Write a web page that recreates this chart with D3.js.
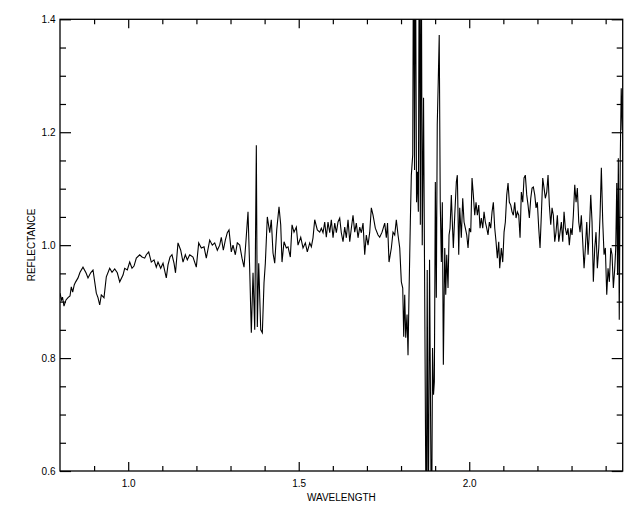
<!DOCTYPE html>
<html>
<head>
<meta charset="utf-8">
<script src="https://cdn.jsdelivr.net/npm/d3@7"></script>
<style>
  html, body { margin: 0; padding: 0; background: #fff; }
  svg { display: block; }
  text { font-family: "Liberation Sans", Arial, sans-serif; fill: #000; }
</style>
</head>
<body>
<svg id="chart" width="640" height="512"></svg>
<script>
// Wavelength (microns)
const wavelength = [
0.800,0.8044,0.8073,0.8117,0.8176,0.8235,0.8293,0.8331,0.8372,0.8419,0.8460,0.8528,0.8587,0.8674,0.8762,0.8821,0.8900,0.8968,0.9018,0.9065,0.9114,0.9164,0.9211,0.9290,0.9358,0.9457,0.9525,0.9604,0.9680,0.9751,0.9848,0.9897,0.9974,1.0044,1.0111,1.0170,1.0238,1.0337,1.0405,1.0484,1.0531,1.0601,1.0677,1.0757,1.0824,1.0874,1.0953,1.1021,1.1117,1.1167,1.1226,
1.1284,1.1343,1.1387,1.1460,1.1540,1.1607,1.1675,1.1733,1.1804,1.1900,1.1997,1.2067,1.2144,1.2223,1.2290,1.2390,1.2466,1.2537,1.2613,1.2683,1.2730,1.2789,1.2848,1.2906,1.2956,1.3023,1.3073,1.3141,1.3199,1.3270,1.3337,1.3396,1.3455,1.3513,1.3563,1.3610,1.3660,1.3710,1.3757,1.3786,1.3827,1.3886,1.3933,1.3982,1.4021,1.4079,1.4150,1.4196,1.4246,1.4296,1.4355,1.4422,
1.4472,1.4510,1.4569,1.4636,1.4686,1.4754,1.4804,1.4862,1.4930,1.4979,1.5059,1.5126,1.5194,1.5252,1.5323,1.5370,1.5419,1.5469,1.5545,1.5616,1.5663,1.5713,1.5762,1.5809,1.5859,1.5909,1.5956,1.6006,1.6056,1.6103,1.6152,1.6202,1.6249,1.6299,1.6349,1.6396,1.6446,1.6496,1.6543,1.6592,1.6642,1.6689,1.6739,1.6789,1.6836,1.6886,1.6935,1.6982,1.7032,1.7082,1.7129,1.7179,1.7246,1.7326,1.7375,1.7443,1.7522,1.7569,1.7604,1.7648,
1.7716,1.7765,1.7815,1.7862,1.7912,1.7962,1.8009,1.8050,1.8079,1.8108,1.8138,1.8176,1.8205,1.8235,1.8273,1.8302,1.8343,1.8367,1.8396,1.8419,1.8455,1.8479,1.8508,1.8537,1.8566,1.8592,1.8622,1.8660,1.8739,1.8768,1.8798,1.8836,1.8894,1.8924,1.8953,1.8977,1.9006,1.9035,1.9062,1.9091,1.9120,1.9150,1.9182,1.9211,1.9241,1.9282,1.9311,1.9340,1.9378,1.9408,1.9437,1.9475,1.9504,1.9534,1.9575,1.9622,1.9651,1.9692,1.9721,1.9768,1.9809,1.9848,1.9886,1.9927,1.9965,2.0003,2.0044,2.0082,2.0120,2.0161,2.0199,2.0238,2.0279,2.0317,2.0355,2.0396,2.0434,2.0472,2.0513,2.0551,2.0590,2.0630,2.0669,2.0707,2.0748,2.0786,2.0824,2.0865,
2.0894,2.0941,2.0982,2.1021,2.1059,2.1100,2.1138,2.1176,2.1217,2.1255,2.1293,2.1334,2.1372,2.1411,2.1452,2.1490,2.1528,2.1569,2.1607,2.1645,2.1686,2.1724,2.1763,2.1804,2.1842,2.1880,2.1921,2.1959,2.1997,2.2038,2.2076,2.2114,2.2155,2.2194,2.2232,2.2273,2.2311,2.2349,2.2390,2.2428,2.2466,2.2507,2.2545,2.2584,2.2625,2.2663,2.2701,2.2742,2.2780,2.2818,2.2859,2.2897,2.2935,2.2977,2.3015,2.3053,2.3094,2.3132,2.3170,2.3211,2.3249,2.3287,2.3328,2.3367,2.3405,2.3446,2.3484,2.3522,2.3563,2.3601,2.3639,2.3680,2.3718,2.3757,2.3798,2.3836,2.3874,2.3915,2.3953,2.3991,2.4032,2.4070,2.4109,2.4150,2.4188,2.4226,2.4267,2.4296,2.4326,2.4349,2.4372,2.4399,2.4428,2.4457,2.4487
];

// Reflectance (values beyond the frame are clipped)
const reflectance = [
0.915,0.903,0.908,0.892,0.903,0.907,0.910,0.926,0.917,0.930,0.935,0.942,0.952,0.961,0.951,0.942,0.951,0.956,0.935,0.915,0.907,0.894,0.912,0.907,0.944,0.959,0.952,0.958,0.951,0.935,0.947,0.959,0.956,0.970,0.959,0.963,0.977,0.983,0.979,0.977,0.983,0.988,0.970,0.974,0.961,0.970,0.959,0.968,0.942,0.965,0.979,
0.983,0.968,0.951,1.004,0.991,0.970,0.983,0.974,0.983,0.979,0.961,1.004,0.995,0.997,0.977,1.009,1.000,1.004,0.991,1.000,1.014,0.991,1.009,1.022,1.027,0.988,1.000,0.983,1.004,1.000,0.977,0.961,1.009,1.059,0.956,0.845,0.951,0.850,1.177,0.855,0.968,0.850,0.845,0.933,0.968,1.050,1.022,1.045,0.986,0.968,1.027,1.068,
1.036,0.970,1.006,0.995,0.997,0.979,1.036,1.023,1.032,1.000,1.014,0.995,1.004,0.988,1.004,0.997,1.013,1.045,1.027,1.023,1.030,1.022,1.041,1.014,1.041,1.022,1.045,1.013,1.039,1.022,1.041,1.048,1.022,1.006,1.032,1.013,1.045,1.006,1.030,1.053,1.023,1.039,1.013,1.032,1.022,1.039,0.983,1.018,1.000,1.023,1.066,1.053,1.030,1.018,1.014,1.023,1.039,1.013,1.039,0.970,
0.995,1.023,1.018,1.045,1.018,0.995,0.935,0.924,0.838,0.912,0.836,0.877,0.805,0.917,1.041,1.124,1.160,1.600,1.133,1.600,1.076,1.130,1.059,1.600,1.036,1.600,1.000,1.261,0.450,0.956,0.450,0.974,0.450,0.818,0.735,0.758,1.112,0.907,1.213,1.289,1.372,1.076,0.970,1.076,0.788,0.995,0.912,0.983,0.924,1.018,1.030,1.089,1.041,0.995,1.053,1.112,1.124,0.983,1.066,1.013,1.083,1.041,1.030,1.018,0.995,1.030,1.023,1.119,1.089,1.053,1.076,1.053,1.071,1.030,1.048,1.030,1.059,1.041,1.030,1.018,1.041,1.030,1.059,1.076,1.030,1.006,0.977,1.006,
0.959,0.995,0.970,1.023,1.041,1.089,1.110,1.076,1.071,1.059,1.053,1.076,1.048,1.059,1.053,1.013,1.094,1.076,1.119,1.124,1.089,1.071,1.048,1.083,1.101,1.103,1.089,1.066,1.076,1.030,0.995,1.053,1.119,1.101,1.083,1.094,1.124,1.071,1.036,1.066,1.053,1.006,1.023,1.053,1.006,1.023,1.041,1.006,1.059,1.030,1.018,1.030,1.000,1.030,1.018,1.053,1.107,1.076,1.101,1.041,1.023,1.053,1.006,0.959,0.995,1.041,0.983,1.023,1.089,1.041,0.935,0.995,1.023,0.959,0.995,1.053,1.137,1.041,0.983,0.995,0.912,0.959,0.935,0.995,0.983,0.924,0.959,0.995,1.110,0.947,1.154,0.868,1.151,1.278,1.204
];

const xMajorTicks = [1.0, 1.5, 2.0];
const xMinorTicks = [0.9, 1.1, 1.2, 1.3, 1.4, 1.6, 1.7, 1.8, 1.9, 2.1, 2.2, 2.3, 2.4];
const yMajorTicks = [0.6, 0.8, 1.0, 1.2, 1.4];
const yMinorTicks = [0.65, 0.7, 0.75, 0.85, 0.9, 0.95, 1.05, 1.1, 1.15, 1.25, 1.3, 1.35];
const xLabel = "WAVELENGTH";
const yLabel = "REFLECTANCE";

(function () {
const pL = 60, pR = 622.7, pT = 19.3, pB = 471;

const svg = d3.select("#chart");
const x = d3.scaleLinear().domain([0.8, 2.45]).range([pL, pR]);
const y = d3.scaleLinear().domain([0.6, 1.4]).range([pB, pT]);

const n = Math.min(wavelength.length, reflectance.length);
const data = d3.range(n).map(i => ({ w: wavelength[i], r: reflectance[i] }));

svg.append("defs").append("clipPath").attr("id", "clip")
  .append("rect").attr("x", pL).attr("y", pT)
  .attr("width", pR - pL).attr("height", pB - pT);

const line = d3.line().x(d => x(d.w)).y(d => y(d.r));
svg.append("path")
  .datum(data)
  .attr("clip-path", "url(#clip)")
  .attr("fill", "none")
  .attr("stroke", "#000")
  .attr("stroke-width", 1.1)
  .attr("d", line);

function styleAxis(g) {
  g.select(".domain").remove();
  g.selectAll(".tick line").attr("stroke", "#000").attr("stroke-width", 1.2);
  g.selectAll(".tick text").attr("font-size", 10)
    .attr("font-family", "'Liberation Sans', Arial, sans-serif").attr("fill", "#222");
}
const fmt = d3.format(".1f");

svg.append("g").attr("transform", `translate(0,${pB})`)
  .call(d3.axisBottom(x).tickValues(xMajorTicks).tickSize(-9).tickPadding(9).tickFormat(fmt))
  .call(styleAxis);
svg.append("g").attr("transform", `translate(0,${pB})`)
  .call(d3.axisBottom(x).tickValues(xMinorTicks).tickSize(-5).tickFormat(""))
  .call(styleAxis);
svg.append("g").attr("transform", `translate(0,${pT})`)
  .call(d3.axisTop(x).tickValues(xMajorTicks).tickSize(-9).tickFormat(""))
  .call(styleAxis);
svg.append("g").attr("transform", `translate(0,${pT})`)
  .call(d3.axisTop(x).tickValues(xMinorTicks).tickSize(-5).tickFormat(""))
  .call(styleAxis);

svg.append("g").attr("transform", `translate(${pL},0)`)
  .call(d3.axisLeft(y).tickValues(yMajorTicks).tickSize(-11).tickPadding(4.5).tickFormat(fmt))
  .call(styleAxis);
svg.append("g").attr("transform", `translate(${pL},0)`)
  .call(d3.axisLeft(y).tickValues(yMinorTicks).tickSize(-6).tickFormat(""))
  .call(styleAxis);
svg.append("g").attr("transform", `translate(${pR},0)`)
  .call(d3.axisRight(y).tickValues(yMajorTicks).tickSize(-11).tickFormat(""))
  .call(styleAxis);
svg.append("g").attr("transform", `translate(${pR},0)`)
  .call(d3.axisRight(y).tickValues(yMinorTicks).tickSize(-6).tickFormat(""))
  .call(styleAxis);

svg.append("rect")
  .attr("x", pL).attr("y", pT)
  .attr("width", pR - pL).attr("height", pB - pT)
  .attr("fill", "none").attr("stroke", "#000").attr("stroke-width", 1.3);

svg.append("text")
  .attr("x", (pL + pR) / 2).attr("y", 500.5)
  .attr("text-anchor", "middle").attr("font-size", 10).attr("fill", "#222")
  .text(xLabel);
svg.append("text")
  .attr("transform", "translate(35,245) rotate(-90)")
  .attr("text-anchor", "middle").attr("font-size", 10).attr("fill", "#222")
  .text(yLabel);
})();
</script>
</body>
</html>
